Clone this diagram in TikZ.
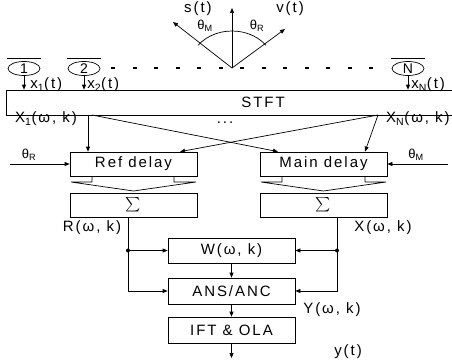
\documentclass[tikz,border=0pt]{standalone}
\usepackage{fontspec}
\setmainfont{Liberation Sans}[LetterSpace=13]
\usepackage{xcolor}
\usepackage{tikz}
\usetikzlibrary{positioning,shapes,arrows.meta,shapes.geometric}
\usepackage{amsmath}

\tikzset{
  blk/.style={draw, minimum width=127pt, minimum height=24pt, inner sep=0pt},
  mic/.style={draw, ellipse, minimum width=32pt, minimum height=14pt, inner sep=0pt,
    text height=6pt, text depth=0pt, font=\fontsize{14}{14}\selectfont},
  sig/.style={-{Triangle[length=5pt,width=4pt]}},
  lbl/.style={inner sep=0pt},
  ang/.style={inner sep=0pt, font=\fontsize{13}{13}\selectfont},
}

\begin{document}
\begin{tikzpicture}[x=1pt,y=-1pt,line width=0.7pt,font=\fontsize{15}{15}\selectfont]
\useasboundingbox (0,0) rectangle (452,361);

\node[mic] (m1) at (24,68.5) {\raisebox{-2pt}{1}};
\node[mic] (m2) at (84,68.5) {\raisebox{-2pt}{2}};
\node[mic] (mN) at (408,68.5) {\raisebox{-2pt}{N}};
\foreach \m in {m1,m2,mN}
  \draw[line width=1.2pt] ([shift={(-17pt,3pt)}]\m.north) -- ([shift={(17pt,3pt)}]\m.north);
\foreach \x in {113,134.5,...,372}
  \fill (\x-2,66.8) rectangle ++(4,2.6);

\coordinate (src) at (232,68);
\coordinate (tipS) at (232,8);
\coordinate (tipM) at (173,22);
\coordinate (tipR) at (285,29);
\draw[sig] (src) -- (tipS);
\draw[sig] (src) -- (tipM);
\draw[sig] (src) -- (tipR);
\draw ([shift={(-142:43 and 37)}]src) arc[start angle=-142, end angle=-38, x radius=43, y radius=37];
\node[lbl] at (198,9) {s(t)};
\node[lbl] at (290,9) {v(t)};
\node[ang] at (205,26) {θ\textsubscript{M}};
\node[ang] at (257,26) {θ\textsubscript{R}};

\node[blk, minimum width=514pt, minimum height=25pt] (stft) at (263,102.5) {STFT};
\draw[sig] (m1.south) -- (m1.south |- stft.north);
\draw[sig] (m2.south) -- (m2.south |- stft.north);
\draw[sig] (mN.south) -- (mN.south |- stft.north);
\node[lbl, anchor=west] at (30,85) {x\textsubscript{1}(t)};
\node[lbl, anchor=west] at (87,85) {x\textsubscript{2}(t)};
\node[lbl, anchor=west] at (411,85) {x\textsubscript{N}(t)};

\node[blk] (ref) at (133.5,164) {Ref delay};
\node[blk] (main) at (323.5,164) {Main delay};
\node[lbl] at (46,119) {X\textsubscript{1}(ω, k)};
\node[lbl, anchor=east] at (450,119) {X\textsubscript{N}(ω, k)};
\node[lbl] at (225,123) {...};

\coordinate (o1) at (88,115);
\coordinate (o1d) at (92,115);
\coordinate (oN) at (378,115);
\draw[sig] (o1) -- (o1 |- ref.north);
\draw[sig] (o1d) -- ([xshift=-45.5pt]main.north);
\draw[sig] (oN) -- ([xshift=46.5pt]ref.north);
\draw[sig] (oN) -- ([xshift=41.5pt]main.north);

\coordinate (thR) at (10,164);
\coordinate (thM) at (448,164);
\draw[sig] (thR) -- (ref.west);
\draw[sig] (thM) -- (main.east);
\node[ang] at (29,155) {θ\textsubscript{R}};
\node[ang] at (416,155) {θ\textsubscript{M}};

\draw (92,176) -- (92,182) -- (71,182) -- (133.5,191) -- (196,182) -- (174,182) -- (174,176);
\draw (282,176) -- (282,182) -- (261,182) -- (323.5,191) -- (386,182) -- (365,182) -- (365,176);

\node[blk] (sumR) at (133.5,205) {$\textstyle\sum$};
\node[blk] (sumX) at (323.5,205) {$\textstyle\sum$};
\node[lbl] at (92,228) {R(ω, k)};
\node[lbl] at (383,228) {X(ω, k)};

\node[blk, minimum height=25pt] (wgt) at (231.5,250.5) {W(ω, k)};
\node[blk, minimum height=26pt] (ans) at (231.5,291) {ANS/ANC};
\node[blk, minimum height=26pt] (ift) at (231.5,330) {IFT \& OLA};
\node[lbl] at (332,310) {Y(ω, k)};
\node[lbl] at (348,352) {y(t)};

\coordinate (jR) at (128,250.5);
\coordinate (jX) at (337,250.5);
\coordinate (out) at (231.5,358);
\draw (sumR.south -| jR) -- (jR);
\draw (sumX.south -| jX) -- (jX);
\fill (jR) circle (2pt);
\fill (jX) circle (2pt);
\draw[sig] (jR) -- (wgt.west);
\draw[sig] (jX) -- (wgt.east);
\draw[sig] (jR) |- (ans.west);
\draw[sig] (jX) |- (ans.east);
\draw[sig] (wgt) -- (ans);
\draw[sig] (ans) -- (ift);
\draw[sig] (ift) -- (out);
\end{tikzpicture}
\end{document}
